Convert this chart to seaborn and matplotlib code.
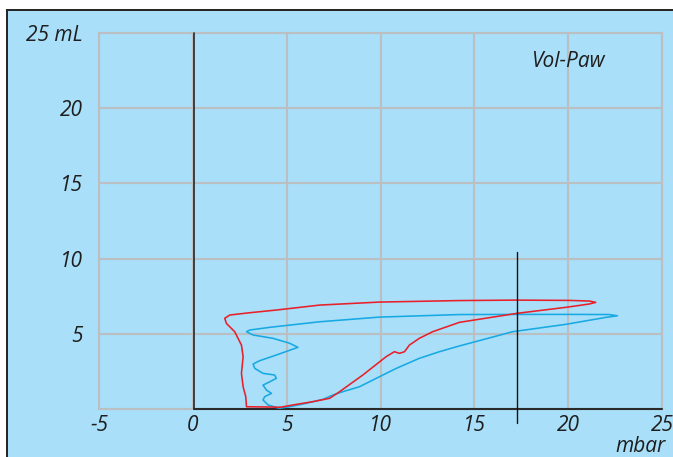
import matplotlib
matplotlib.use("Agg")
import matplotlib.pyplot as plt
from matplotlib import font_manager
from matplotlib.patches import Rectangle
import seaborn as sns
import pandas as pd

# ---- data ----
red_p = [4.63, 4.26, 3.56, 2.86, 2.82, 2.68, 2.59, 2.68, 2.59, 2.23, 1.79, 1.70, 1.97, 3.03,
         4.45, 6.76, 9.95, 14.2, 17.23, 20.05, 21.12, 21.47, 21.12, 19.88, 17.27, 14.2,
         12.78, 12.07, 11.54, 11.28, 11.01, 10.74, 10.30, 9.06, 7.82, 7.29, 6.40, 5.34, 4.63]
red_v = [0.11, 0.13, 0.14, 0.15, 0.82, 1.48, 2.37, 3.48, 4.25, 5.14, 5.69, 6.03, 6.25, 6.40,
         6.58, 6.91, 7.11, 7.21, 7.24, 7.22, 7.18, 7.09, 6.98, 6.76, 6.36, 5.76,
         5.14, 4.70, 4.25, 3.81, 3.70, 3.81, 3.48, 2.26, 1.15, 0.71, 0.49, 0.27, 0.11]

cyan_p = [4.63, 4.45, 4.01, 3.74, 3.83, 4.19, 3.92, 3.74, 4.10, 4.45, 4.36, 3.74, 3.30, 3.21,
          3.56, 4.45, 5.60, 5.16, 4.27, 3.21, 2.86, 3.03, 4.10, 6.76, 9.95, 14.2, 17.23,
          20.05, 22.18, 22.62, 22.0, 19.88, 17.04, 14.2, 13.14, 12.07, 10.84, 9.95, 8.88,
          7.99, 7.46, 6.93, 6.05, 5.16, 4.63]
cyan_v = [0.05, 0.10, 0.27, 0.60, 0.82, 1.04, 1.26, 1.59, 1.81, 2.04, 2.26, 2.37, 2.70, 2.99,
          3.21, 3.59, 4.10, 4.37, 4.70, 4.92, 5.14, 5.25, 5.43, 5.80, 6.11, 6.28, 6.29,
          6.29, 6.28, 6.20, 6.09, 5.63, 5.14, 4.19, 3.81, 3.37, 2.70, 2.15, 1.48,
          1.15, 0.93, 0.64, 0.38, 0.15, 0.05]

x_ticks = [-5, 0, 5, 10, 15, 20, 25]
x_labels = ["-5", "0", "5", "10", "15", "20", "25"]
y_ticks = [5, 10, 15, 20, 25]
y_labels = ["5", "10", "15", "20", "25 mL"]

zero_line_x = 0.08
marker_x = 17.27
marker_v = [-0.95, 10.45]

# ---- styling ----
sns.set_theme(style="white")

preferred = ["Open Sans", "Noto Sans", "Lato", "Roboto", "Liberation Sans", "DejaVu Sans"]
italic_fams = {f.name for f in font_manager.fontManager.ttflist
               if f.style in ("italic", "oblique")}
FAMILY = next((f for f in preferred if f in italic_fams), "DejaVu Sans")
FAM = [FAMILY, "DejaVu Sans"]
plt.rcParams["font.family"] = FAM
plt.rcParams["font.style"] = "italic"

FS = 15
BG = "#a9dff9"
GRID = "#bcbfc2"
TXT = "#1e1e1e"
RED = "#e8202a"
CYAN = "#18a9e3"

W, H = 673, 457
fig = plt.figure(figsize=(W / 100, H / 100), dpi=100)
fig.patch.set_facecolor("white")
bg = Rectangle((7 / W, -0.05), 1.2, 1 - 10 / H + 0.05, transform=fig.transFigure,
               facecolor=BG, edgecolor="#222222", linewidth=1.4, zorder=-10)
fig.patches.append(bg)

ax = fig.add_axes([99 / W, (H - 409) / H, (662 - 99) / W, (409 - 33) / H])
ax.set_zorder(1)
ax.set_facecolor("none")
ax.set_xlim(-5, 25)
ax.set_ylim(0, 25)

ax.set_xticks(x_ticks)
ax.set_xticklabels(x_labels, fontstyle="italic", family=FAM)
ax.set_yticks(y_ticks)
ax.set_yticklabels(y_labels, fontstyle="italic", family=FAM)
ax.tick_params(axis="both", length=0, labelsize=FS, colors=TXT)
ax.tick_params(axis="y", pad=11.5)
ax.tick_params(axis="x", pad=4)

ax.grid(True, color=GRID, linewidth=1.5)
for s in ax.spines.values():
    s.set_color(GRID)
    s.set_linewidth(1.5)

df_red = pd.DataFrame({"p": red_p, "v": red_v})
df_cyan = pd.DataFrame({"p": cyan_p, "v": cyan_v})
sns.lineplot(data=df_cyan, x="p", y="v", sort=False, estimator=None, color=CYAN,
             linewidth=1.15, ax=ax, zorder=4)
sns.lineplot(data=df_red, x="p", y="v", sort=False, estimator=None, color=RED,
             linewidth=1.15, ax=ax, zorder=5)
ax.set_xlabel("")
ax.set_ylabel("")

# axes cross lines
ax.plot([zero_line_x, zero_line_x], [0, 25], color="#262626", linewidth=1.2, zorder=3,
        clip_on=False)
ax.plot([zero_line_x, 25], [0, 0], color="#2a2a2a", linewidth=1.5, zorder=3, clip_on=False)
ax.plot([marker_x, marker_x], marker_v, color="#111111", linewidth=1.0, zorder=6,
        clip_on=False)

ax.text(20.0, 23.08, "Vol-Paw", ha="center", va="center", fontsize=FS, color=TXT,
        fontstyle="italic", family=FAM)
ax.text(25.2, -2.5, "mbar", ha="right", va="center", fontsize=FS, color=TXT,
        fontstyle="italic", family=FAM, clip_on=False)

fig.savefig("out.png", dpi=100)
